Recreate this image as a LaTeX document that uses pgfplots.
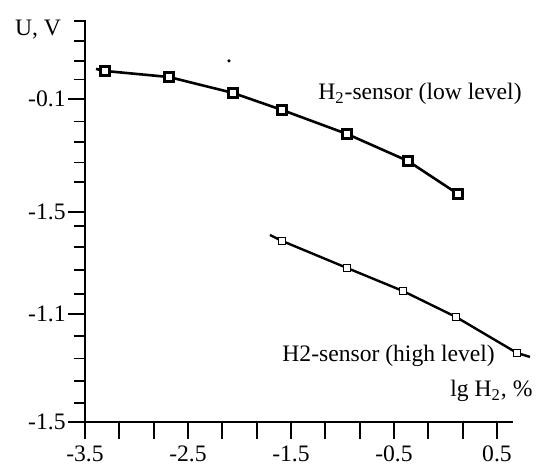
\documentclass[border=0pt]{standalone}
\usepackage{fontspec}
\setmainfont{Liberation Serif}
\usepackage{pgfplots}
\pgfplotsset{compat=1.18}
\begin{document}
\begin{tikzpicture}
\begin{axis}[
    x=51.5pt, y=53.85pt,
    xmin=-3.5, xmax=0.66,
    ymin=0, ymax=3.73,
    axis lines=left,
    axis line style={-, line width=1pt},
    clip=false,
    font=\fontsize{11.8}{13}\selectfont,
    /pgf/number format/assume math mode=true,
    tick align=outside,
    major tick length=8.5pt,
    minor tick length=5.5pt,
    tick style={black, line width=0.9pt},
    xtick={-3.5,-3.16667,-2.83333,-2.5,-2.16667,-1.83333,-1.5,-1.16667,-0.83333,-0.5,-0.16667,0.16667,0.5},
    xticklabels={-3.5,,,-2.5,,,-1.5,,,-0.5,,,0.5},
    ytick={0,1,1.95,3},
    yticklabels={-1.5,-1.1,-1.5,-0.1},
    minor ytick={0.176,0.38,0.59,0.80,1.19,1.41,1.625,1.82,2.23,2.41,2.60,2.79,3.18,3.35,3.54,3.72},
    yticklabel style={inner xsep=1pt},
]

% low level sensor
\addplot[black, line width=1.3pt] coordinates {
    (-3.393,3.278) (-3.306,3.259) (-2.684,3.203) (-2.063,3.055)
    (-1.587,2.897) (-0.956,2.674) (-0.364,2.423) (0.121,2.117)
};
\addplot[only marks, mark=square*, mark size=2.1pt,
    mark options={draw=black, fill=white, line width=1.6pt}] coordinates {
    (-3.306,3.259) (-2.684,3.203) (-2.063,3.055)
    (-1.587,2.897) (-0.956,2.674) (-0.364,2.423) (0.121,2.117)
};

% high level sensor
\addplot[black, line width=1.2pt] coordinates {
    (-1.704,1.736) (-1.587,1.681) (-0.956,1.430) (-0.413,1.216)
    (0.102,0.975) (0.694,0.641) (0.820,0.604)
};
\addplot[only marks, mark=square*, mark size=1.7pt,
    mark options={draw=black, fill=white, line width=0.6pt}] coordinates {
    (-1.587,1.681) (-0.956,1.430) (-0.413,1.216) (0.102,0.975) (0.694,0.641)
};

% stray dot
\addplot[only marks, mark=*, mark size=0.6pt, black] coordinates {(-2.102,3.352)};

\node[anchor=center] at (axis cs:-3.956,3.64) {U, V};
\node[anchor=base west, inner sep=0pt] at (axis cs:-1.238,2.99) {H\textsubscript{2}-sensor (low level)};
\node[anchor=base west, inner sep=0pt] at (axis cs:-1.587,0.557) {H2-sensor (high level)};
\node[anchor=base west, inner sep=0pt] at (axis cs:0.044,0.232) {lg H\textsubscript{2}, \%};

\coordinate (bl) at (axis cs:-4.325,-0.4735);
\coordinate (tr) at (axis cs:0.937,3.918);
\end{axis}
\pgfresetboundingbox
\useasboundingbox (bl) rectangle (tr);
\end{tikzpicture}
\end{document}
